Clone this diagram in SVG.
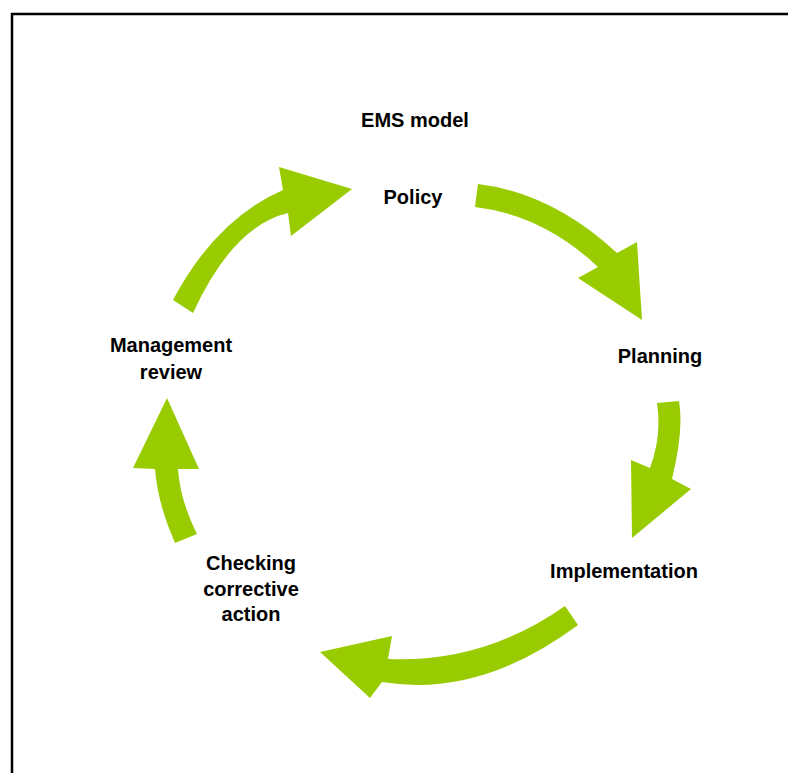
<svg xmlns="http://www.w3.org/2000/svg" width="788" height="773" viewBox="0 0 788 773">
  <style>
    .lbl { font-family: "Liberation Sans", Arial, sans-serif; font-weight: bold; font-size: 20px; fill: #000; text-anchor: middle; }
    .arrow { fill: #99CC00; stroke: none; }
  </style>
  <rect x="0" y="0" width="788" height="773" fill="#ffffff"/>
  <rect x="12" y="14" width="820" height="820" fill="none" stroke="#000" stroke-width="2.5"/>
  <g id="connectors">
    <path class="arrow" d="M173,300 Q216,219 283,190 L279,167 L352,189 L291,236 L288,213 Q233,226 193,313 Z"/>
    <path class="arrow" d="M478,184 Q552,193 617,253 L637,242 L642,320 L578,278 L598,267 Q543,215 475,207 Z"/>
    <path class="arrow" d="M679,401 Q684,430 672,479 L691,489 L632,538 L631,460 L650,468 Q662,436 657,403 Z"/>
    <path class="arrow" d="M565,606 Q484,663 388,659 L392,636 L320,652 L370,698 L382,682 Q480,698 578,625 Z"/>
    <path class="arrow" d="M175,543 Q158,505 155,469 L133,468 L167,398 L199,469 L178,469 Q180,500 197,534 Z"/>
  </g>
  <g id="title"><text class="lbl" x="415" y="127">EMS model</text></g>
  <g id="policy"><text class="lbl" x="413" y="204">Policy</text></g>
  <g id="planning"><text class="lbl" x="660" y="363">Planning</text></g>
  <g id="implementation"><text class="lbl" x="624" y="578">Implementation</text></g>
  <g id="checking"><text class="lbl" x="251" y="570">Checking</text><text class="lbl" x="251" y="596">corrective</text><text class="lbl" x="251" y="621">action</text></g>
  <g id="management"><text class="lbl" x="171" y="352">Management</text><text class="lbl" x="171" y="379">review</text></g>
</svg>
